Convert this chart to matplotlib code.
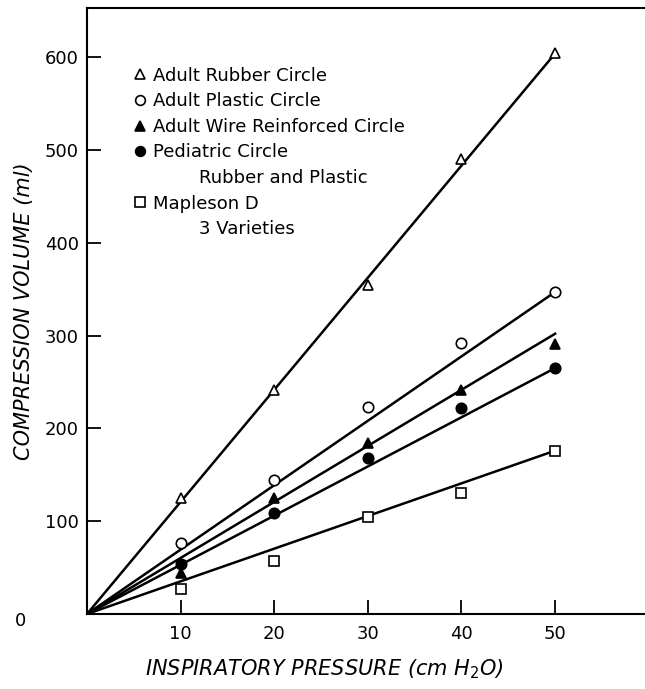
import matplotlib
matplotlib.use("Agg")
import matplotlib.pyplot as plt
from matplotlib.lines import Line2D
import numpy as np

plt.rcParams['font.family'] = ['DejaVu Sans']

pressure = [10, 20, 30, 40, 50]
line_x = [0, 50]

series_names = [
    "Adult Rubber Circle",
    "Adult Plastic Circle",
    "Adult Wire Reinforced Circle",
    "Pediatric Circle",
    "Mapleson D",
]
# continuation lines of legend labels (after the entry with the same index)
label_continuations = {3: "Rubber and Plastic", 4: "3 Varieties"}

rubber = [125, 241, 355, 490, 604]
plastic = [77, 144, 223, 292, 347]
wire = [44, 125, 184, 241, 291]
pediatric = [54, 109, 168, 222, 265]
mapleson = [27, 57, 105, 130, 176]

# fitted line values at 50 cm H2O (lines start at origin)
fit_end = [604, 347, 302, 265, 176]

markers = ['^', 'o', '^', 'o', 's']
filled = [False, False, True, True, False]
values = [rubber, plastic, wire, pediatric, mapleson]

fig = plt.figure(figsize=(6.45, 6.89), dpi=100)
ax = fig.add_axes([87/645, 75/689, 1 - 87/645, (614-8)/689])

handles = []
labels = []
for i, (name, vals, m, f, end) in enumerate(zip(series_names, values, markers, filled, fit_end)):
    ax.plot(line_x, [0, end], color='black', lw=1.8, zorder=2)
    h, = ax.plot(pressure, vals, linestyle='none', marker=m, markersize=7.5 if m != 's' else 7,
                 markerfacecolor='black' if f else 'white', markeredgecolor='black',
                 markeredgewidth=1.2, zorder=3, label=name)
    handles.append(h)
    labels.append(name)
    if i in label_continuations:
        handles.append(Line2D([], [], linestyle='none', marker='none'))
        labels.append(' ' * 8 + label_continuations[i])

ax.set_xlim(0, 59.6)
ax.set_ylim(0, 653)
ax.set_xticks([10, 20, 30, 40, 50])
ax.set_xticklabels(['10', '20', '30', '40', '50'], fontsize=13)
ax.set_yticks([0, 100, 200, 300, 400, 500, 600])
ax.set_yticklabels(['', '100', '200', '300', '400', '500', '600'], fontsize=13)
ax.tick_params(direction='in', length=10, width=1.3, pad=6)
ax.tick_params(axis='x', pad=8)
ax.text(-0.12, -0.012, '0', transform=ax.transAxes, fontsize=13, ha='center', va='center')

for s in ['left', 'bottom', 'top']:
    ax.spines[s].set_linewidth(1.5)
ax.spines['right'].set_visible(False)

ax.set_xlabel('INSPIRATORY PRESSURE (cm H$_2$O)', fontsize=15, style='italic')
ax.xaxis.set_label_coords(0.425, -0.072)
ax.set_ylabel('COMPRESSION VOLUME (ml)', fontsize=15, style='italic', labelpad=8)

leg = ax.legend(handles=handles, labels=labels, loc='upper left', bbox_to_anchor=(0.072, 0.915),
                frameon=False, fontsize=13, handlelength=0.6, handletextpad=0.45,
                labelspacing=0.42, borderaxespad=0)
for h in leg.legend_handles:
    h.set_markersize(7)

fig.savefig('out.png', dpi=100)
